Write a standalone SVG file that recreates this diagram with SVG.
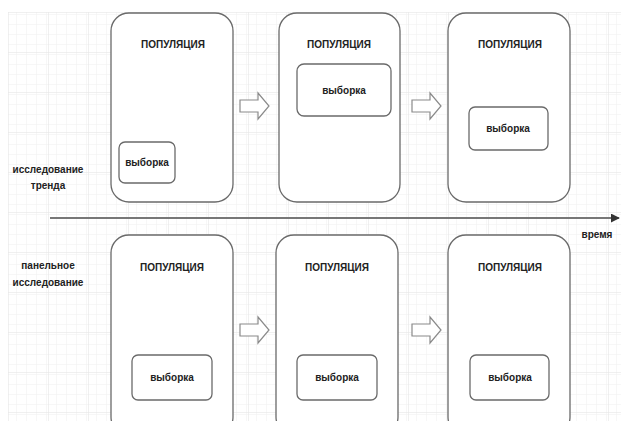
<svg xmlns="http://www.w3.org/2000/svg" width="621" height="421" viewBox="0 0 621 421">
<defs>
<pattern id="minor" width="10" height="10" patternUnits="userSpaceOnUse" x="8" y="12">
<path d="M10 0H0V10" fill="none" stroke="#efefef" stroke-width="1"/>
</pattern>
<pattern id="major" width="40" height="40" patternUnits="userSpaceOnUse" x="8" y="12">
<rect width="40" height="40" fill="url(#minor)"/>
<path d="M40 0H0V40" fill="none" stroke="#e2e2e2" stroke-width="1"/>
</pattern>
<marker id="tip" viewBox="0 0 10 10" refX="9" refY="5" markerWidth="5" markerHeight="5" orient="auto">
<path d="M0 0L10 5L0 10z" fill="#333"/>
</marker>
</defs>
<style>
.pop{fill:#fff;stroke:#6a6a6a;stroke-width:1.3}
.smp{fill:#fff;stroke:#6a6a6a;stroke-width:1.3}
.blk{fill:#fff;stroke:#8a8a8a;stroke-width:1.2}
text{font-family:"Liberation Sans",Arial,sans-serif;font-size:10px;font-weight:bold;fill:#222;text-anchor:middle}
</style>
<rect width="621" height="421" fill="#fff"/>
<rect x="8" y="12" width="613" height="409" fill="url(#major)"/>

<g id="label-trend">
<text x="48" y="173">исследование</text>
<text x="48" y="189">тренда</text>
</g>
<g id="label-panel">
<text x="48" y="269">панельное</text>
<text x="48" y="286">исследование</text>
</g>
<g id="label-time"><text x="597" y="238">время</text></g>

<g id="pop-t1"><rect class="pop" x="111" y="13" width="122" height="189" rx="18"/><text x="173" y="48">ПОПУЛЯЦИЯ</text></g>
<g id="pop-t2"><rect class="pop" x="279" y="13" width="121" height="189" rx="18"/><text x="339" y="48">ПОПУЛЯЦИЯ</text></g>
<g id="pop-t3"><rect class="pop" x="448" y="13" width="122" height="189" rx="18"/><text x="510" y="48">ПОПУЛЯЦИЯ</text></g>

<g id="smp-t1"><rect class="smp" x="119" y="142" width="56" height="41" rx="6"/><text x="147" y="166">выборка</text></g>
<g id="smp-t2"><rect class="smp" x="297" y="64" width="94" height="52" rx="7"/><text x="344" y="94">выборка</text></g>
<g id="smp-t3"><rect class="smp" x="469" y="107" width="79" height="43" rx="6"/><text x="508" y="132">выборка</text></g>

<g id="pop-b1"><rect class="pop" x="111" y="235" width="122" height="200" rx="18"/><text x="172" y="271">ПОПУЛЯЦИЯ</text></g>
<g id="pop-b2"><rect class="pop" x="276" y="235" width="122" height="200" rx="18"/><text x="337" y="271">ПОПУЛЯЦИЯ</text></g>
<g id="pop-b3"><rect class="pop" x="448" y="235" width="122" height="200" rx="18"/><text x="510" y="271">ПОПУЛЯЦИЯ</text></g>

<g id="smp-b1"><rect class="smp" x="132" y="355" width="80" height="45" rx="6"/><text x="172" y="381">выборка</text></g>
<g id="smp-b2"><rect class="smp" x="297" y="355" width="80" height="45" rx="6"/><text x="337" y="381">выборка</text></g>
<g id="smp-b3"><rect class="smp" x="470" y="355" width="79" height="45" rx="6"/><text x="510" y="381">выборка</text></g>

<g id="connectors">
<line x1="50" y1="218" x2="619" y2="218" stroke="#777" stroke-width="1.8" marker-end="url(#tip)"/>
<path class="blk" d="M240 100H258V93L269 106L258 119V112H240Z"/>
<path class="blk" d="M412 100H430V93L441 106L430 119V112H412Z"/>
<path class="blk" d="M240 324H258V317L269 330L258 343V336H240Z"/>
<path class="blk" d="M412 324H430V317L441 330L430 343V336H412Z"/>
</g>
</svg>
